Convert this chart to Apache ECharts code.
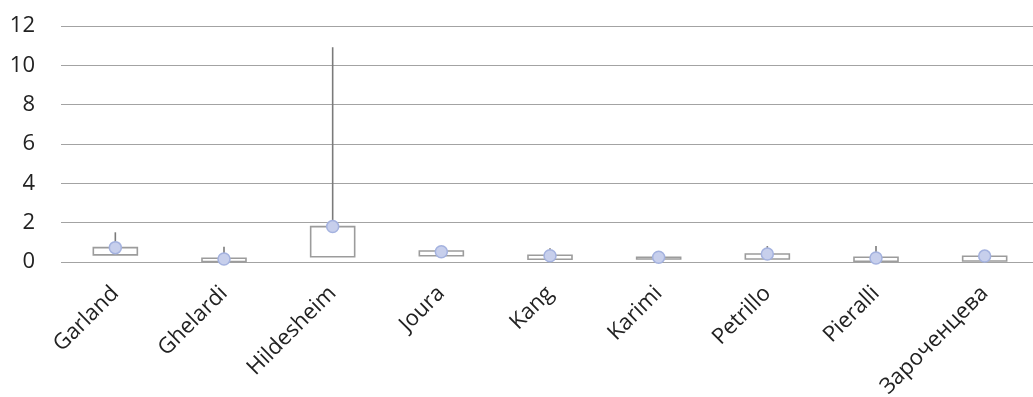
<!DOCTYPE html>
<html>
<head>
<meta charset="utf-8">
<script src="https://cdn.jsdelivr.net/npm/echarts@6/dist/echarts.min.js"></script>
<style>
  html, body { margin: 0; padding: 0; background: #fff; }
  #chart { width: 1033px; height: 397px; }
</style>
</head>
<body>
<div id="chart"></div>
<script>
// Box summary per person: lower quartile, upper quartile, upper whisker, mean
const categories = ['Garland', 'Ghelardi', 'Hildesheim', 'Joura', 'Kang', 'Karimi', 'Petrillo', 'Pieralli', 'Зароченцева'];
const q1Values   = [0.36, 0.02, 0.27, 0.32, 0.14, 0.15, 0.15, 0.04, 0.05];
const q3Values   = [0.73, 0.19, 1.80, 0.56, 0.34, 0.24, 0.41, 0.24, 0.29];
const maxValues  = [1.51, 0.78, 10.92, 0.56, 0.70, 0.24, 0.81, 0.81, 0.29];
const meanValues = [0.73, 0.15, 1.80, 0.52, 0.32, 0.24, 0.41, 0.20, 0.30];
const yTicks = [0, 2, 4, 6, 8, 10, 12];

const boxData = categories.map((c, i) => [i, q1Values[i], q3Values[i], maxValues[i]]);

const chart = echarts.init(document.getElementById('chart'), null, { renderer: 'canvas' });

chart.setOption({
  animation: false,
  backgroundColor: '#ffffff',
  grid: { left: 61, right: -6, top: 26, bottom: 135, containLabel: false, outerBoundsMode: 'none' },
  xAxis: {
    type: 'category',
    data: categories,
    boundaryGap: true,
    axisLine: { show: false },
    axisTick: { show: false },
    splitLine: { show: false },
    axisLabel: {
      rotate: 45,
      margin: 28,
      interval: 0,
      hideOverlap: false,
      fontFamily: 'Open Sans',
      fontSize: 22,
      color: '#222'
    }
  },
  yAxis: {
    type: 'value',
    min: yTicks[0],
    max: yTicks[yTicks.length - 1],
    interval: 2,
    axisLine: { show: false },
    axisTick: { show: false },
    splitLine: { lineStyle: { color: '#a3a3a3', width: 1.2 } },
    axisLabel: {
      margin: 26,
      fontFamily: 'Open Sans',
      fontSize: 22,
      color: '#222'
    }
  },
  series: [
    {
      type: 'custom',
      data: boxData,
      encode: { x: 0, y: [1, 2, 3] },
      z: 2,
      renderItem: function (params, api) {
        const idx = api.value(0);
        const pLo = api.coord([idx, api.value(1)]);
        const pHi = api.coord([idx, api.value(2)]);
        const pMax = api.coord([idx, api.value(3)]);
        const w = api.size([1, 0])[0] * 0.405;
        return {
          type: 'group',
          children: [
            {
              type: 'line',
              shape: { x1: pHi[0], y1: pMax[1], x2: pHi[0], y2: pHi[1] },
              style: { stroke: '#7a7a7a', lineWidth: 1.6 }
            },
            {
              type: 'rect',
              shape: { x: pLo[0] - w / 2, y: pHi[1], width: w, height: pLo[1] - pHi[1] },
              style: { fill: '#ffffff', stroke: '#9c9c9c', lineWidth: 1.6 }
            }
          ]
        };
      }
    },
    {
      type: 'scatter',
      data: meanValues,
      symbol: 'circle',
      symbolSize: 12,
      z: 3,
      itemStyle: { color: '#c7cfec', borderColor: '#a4b2df', borderWidth: 1.5, opacity: 1 }
    }
  ]
});
</script>
</body>
</html>
